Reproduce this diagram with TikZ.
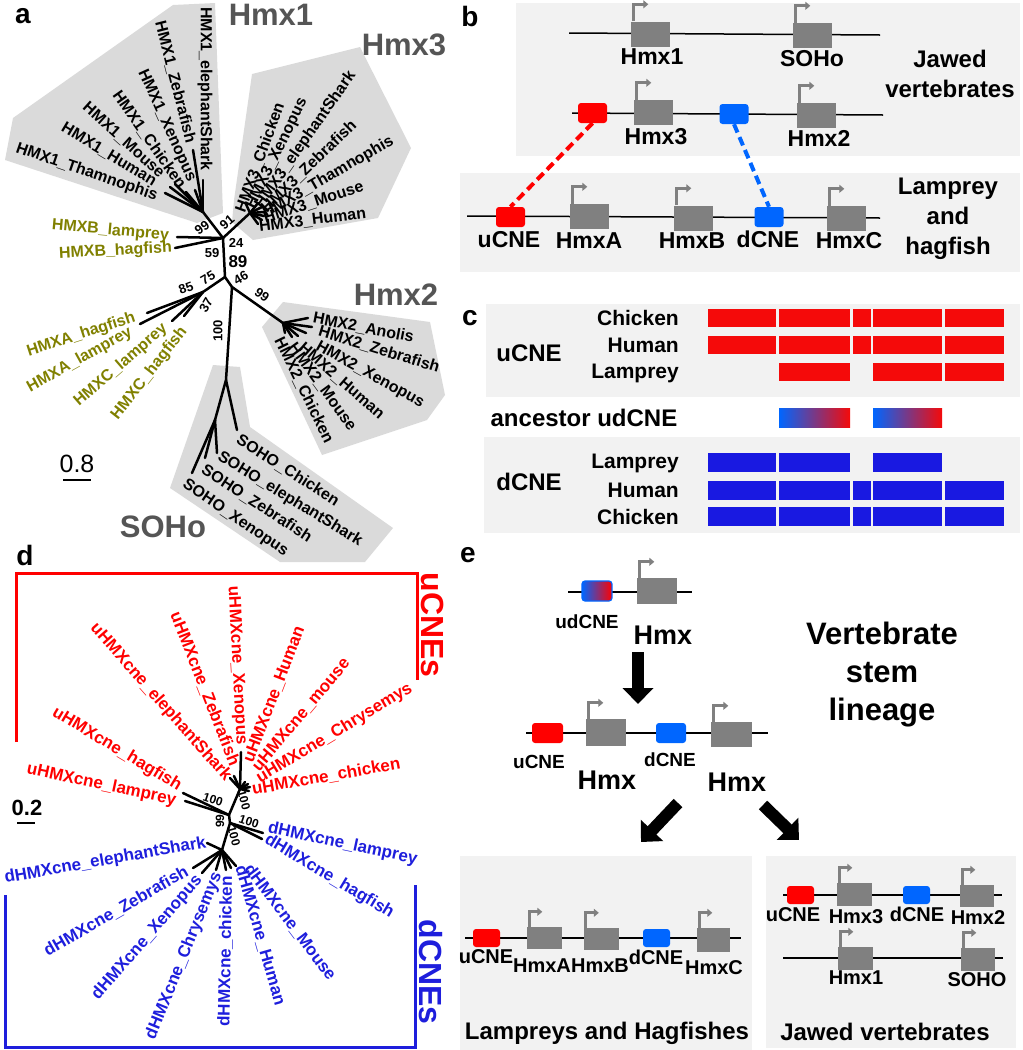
\documentclass[tikz,border=0pt]{standalone}
\usepackage{fontspec}
\setmainfont{Liberation Sans}
\usepackage{tikz}
\usetikzlibrary{positioning,calc,arrows.meta}
\definecolor{cladegray}{RGB}{85,85,85}
\definecolor{hullgray}{RGB}{218,218,218}
\definecolor{panelgray}{RGB}{242,242,242}
\definecolor{genegray}{RGB}{128,128,128}
\definecolor{olivetext}{RGB}{128,128,0}
\definecolor{cnered}{RGB}{255,0,0}
\definecolor{cneblue}{RGB}{0,102,255}
\definecolor{alnred}{RGB}{245,10,10}
\definecolor{alnblue}{RGB}{25,25,225}
\definecolor{treeblue}{RGB}{30,30,220}
\newcommand{\setfs}[1]{\fontsize{#1}{#1}\selectfont}

\begin{document}
\begin{tikzpicture}[x=1pt,y=-1pt,
    every node/.style={inner sep=1pt},
    panel/.style={font=\bfseries\setfs{28}},
    clade/.style={font=\bfseries\setfs{31},text=cladegray},
    leaf/.style={font=\bfseries\setfs{16}},
    dleaf/.style={font=\bfseries\setfs{17}},
    boot/.style={font=\bfseries\setfs{13}},
    branch/.style={line width=2.5pt,line cap=round},
    gene/.style={fill=genegray,minimum width=39pt,minimum height=25pt,inner sep=0pt},
    sgene/.style={gene,minimum width=35pt,minimum height=22pt},
    ucne/.style={fill=cnered,rounded corners=3pt,minimum width=29pt,minimum height=20pt,inner sep=0pt},
    dcne/.style={ucne,fill=cneblue},
    sucne/.style={ucne,minimum width=27pt,minimum height=18pt},
    sdcne/.style={dcne,minimum width=27pt,minimum height=18pt},
    prom/.style={genegray,line width=3pt,-{Triangle[length=5pt,width=8pt]}},
    dna/.style={line width=1.5pt},
    glab/.style={font=\bfseries\setfs{23}},
    slab/.style={font=\bfseries\setfs{20}},
    bigarrow/.style={line width=12pt,-{Triangle[length=16pt,width=30pt]}}]
\useasboundingbox (0,0) rectangle (1023,1050);

%%%%%%%%%%%%%%%% a
\node[panel] (aLab) at (23,16) {a};
% Hulls
\fill[hullgray] (173,5) -- (215,3) -- (223,213) -- (197,223) -- (5,160) -- (13,118) -- cycle;
\fill[hullgray] (252,74) -- (360,47) -- (411,148) -- (378,218) -- (253,240) -- (232,222) -- (234,200) -- cycle;
\fill[hullgray] (262,327) -- (283,302) -- (430,322) -- (445,395) -- (427,420) -- (322,455) -- cycle;
\fill[hullgray] (213,365) -- (240,367) -- (250,427) -- (393,528) -- (365,562) -- (280,562) -- (170,488) -- cycle;
\node[clade] (aHmxOne) at (271,15) {Hmx1};
\node[clade] (aHmxThree) at (404,45) {Hmx3};
\node[clade] (aHmxTwo) at (396,295) {Hmx2};
\node[clade] (aSoho) at (163,527) {SOHo};

% Tree
\coordinate (a0) at (223,238);
\coordinate (aH1) at (203,212);
\coordinate (aH3) at (250,213);
\coordinate (a1) at (225,277);
\coordinate (a2) at (232,287);
\coordinate (aAC) at (203,292);
\coordinate (aH2) at (283,323);
\coordinate (aS0) at (226,380);
\coordinate (aS1) at (215,420);
\draw[branch] (a0) -- (aH1);
\draw[branch] (a0) -- (aH3);
\draw[branch] (a0) -- (a1) -- (a2);
\draw[branch] (a1) -- (aAC);
\draw[branch] (a2) -- (aH2);
\draw[branch] (a2) -- (aS0) -- (aS1);
\foreach \n/\x/\y in {t1/203/180,t2/193/150,t3/195/190,t4/186/192,t5/175/184,t6/170/187,t7/165/193}{
  \coordinate (aH1\n) at (\x,\y); \draw[branch] (aH1) -- (aH1\n);}
\foreach \n/\x/\y in {t1/246/204,t2/258/203,t3/262/207,t4/264/212,t5/264/216,t6/262/220,t7/258/224}{
  \coordinate (aH3\n) at (\x,\y); \draw[branch] (aH3) -- (aH3\n);}
\foreach \n/\x/\y in {t1/308/318,t2/312/327,t3/306/333,t4/298/336,t5/292/337,t6/285/333}{
  \coordinate (aH2\n) at (\x,\y); \draw[branch] (aH2) -- (aH2\n);}
\foreach \n/\x/\y in {tb1/177/237,tb2/175/248}{
  \coordinate (aB\n) at (\x,\y); \draw[branch] (a0) -- (aB\n);}
\foreach \n/\x/\y in {ta1/147/313,ta2/140/324,tc1/172/321,tc2/184/316}{
  \coordinate (aAC\n) at (\x,\y); \draw[branch] (aAC) -- (aAC\n);}
\coordinate (aSt1) at (237,430);
\draw[branch] (aS0) -- (aSt1);
\foreach \n/\x/\y in {t2/217/453,t3/205/458,t4/192/473}{
  \coordinate (aS\n) at (\x,\y); \draw[branch] (aS1) -- (aS\n);}

% Hmx1 leaves
\node[leaf,rotate=-90,anchor=east] (aL11) at (205,172) {HMX1\_elephantShark};
\node[leaf,rotate=-75.7,anchor=east] (aL12) at (191,144) {HMX1\_Zebrafish};
\node[leaf,rotate=-65.7,anchor=east] (aL13) at (192,182) {HMX1\_Xenopus};
\node[leaf,rotate=-55,anchor=east] (aL14) at (183,188) {HMX1\_Chicken};
\node[leaf,rotate=-42,anchor=east] (aL15) at (163,176) {HMX1\_Mouse};
\node[leaf,rotate=-31,anchor=east] (aL16) at (156,183) {HMX1\_Human};
\node[leaf,rotate=-19,anchor=east] (aL17) at (158,197) {HMX1\_Thamnophis};
% Hmx3 leaves
\node[leaf,rotate=70,anchor=west] (aL31) at (240,213) {HMX3\_Chicken};
\node[leaf,rotate=64,anchor=west] (aL32) at (250,209) {HMX3\_Xenopus};
\node[leaf,rotate=55,anchor=west] (aL33) at (258,208) {HMX3\_elephantShark};
\node[leaf,rotate=44,anchor=west] (aL34) at (263,211) {HMX3\_Zebrafish};
\node[leaf,rotate=30,anchor=west] (aL35) at (263,215) {HMX3\_Thamnophis};
\node[leaf,rotate=18,anchor=west] (aL36) at (263,219) {HMX3\_Mouse};
\node[leaf,rotate=7,anchor=west] (aL37) at (258,227) {HMX3\_Human};
% Hmx2 leaves
\node[leaf,rotate=-11,anchor=west] (aL21) at (312,318) {HMX2\_Anolis};
\node[leaf,rotate=-17,anchor=west] (aL22) at (318,331) {HMX2\_Zebrafish};
\node[leaf,rotate=-29,anchor=west] (aL23) at (316,345) {HMX2\_Xenopus};
\node[leaf,rotate=-41,anchor=west] (aL24) at (300,345) {HMX2\_Human};
\node[leaf,rotate=-54,anchor=west] (aL25) at (291,344) {HMX2\_Mouse};
\node[leaf,rotate=-64,anchor=west] (aL26) at (278,337) {HMX2\_Chicken};
% SOHo leaves
\node[leaf,rotate=-32.5,anchor=west] (aLS1) at (237,438) {SOHO\_Chicken};
\node[leaf,rotate=-31.5,anchor=west] (aLS2) at (218,455) {SOHO\_elephantShark};
\node[leaf,rotate=-33,anchor=west] (aLS3) at (202,468) {SOHO\_Zebrafish};
\node[leaf,rotate=-34,anchor=west] (aLS4) at (183,483) {SOHO\_Xenopus};
% lamprey and hagfish leaves
\node[leaf,text=olivetext,rotate=-5,anchor=east] (aLB1) at (170,236) {HMXB\_lamprey};
\node[leaf,text=olivetext,rotate=3,anchor=east] (aLB2) at (173,248) {HMXB\_hagfish};
\node[leaf,text=olivetext,rotate=18,anchor=east] (aLA1) at (136,317) {HMXA\_hagfish};
\node[leaf,text=olivetext,rotate=29,anchor=east] (aLA2) at (132,331) {HMXA\_lamprey};
\node[leaf,text=olivetext,rotate=41,anchor=east] (aLC1) at (166,326) {HMXC\_lamprey};
\node[leaf,text=olivetext,rotate=52,anchor=east] (aLC2) at (185,328) {HMXC\_hagfish};
% Support values
\node[boot,rotate=35] (aB99a) at (202,228) {99};
\node[boot,rotate=40] (aB91) at (227,222) {91};
\node[boot] (aB24) at (236,243) {24};
\node[boot] (aB59) at (212,253) {59};
\node[font=\bfseries\setfs{17}] (aB89) at (238,262) {89};
\node[boot,rotate=30] (aB75) at (208,278) {75};
\node[boot,rotate=30] (aB46) at (241,278) {46};
\node[boot,rotate=20] (aB85) at (186,288) {85};
\node[boot,rotate=60] (aB37) at (206,305) {37};
\node[boot,rotate=-35] (aB99b) at (262,295) {99};
\node[boot,rotate=90] (aB100) at (218,331) {100};
% Scale
\node[font=\setfs{25}] (aScale) at (77,464) {0.8};
\coordinate (aSc1) at (63,480);
\coordinate (aSc2) at (91,480);
\draw[line width=2.5pt] (aSc1) -- (aSc2);

%%%%%%%%%%%%%%%% b
\fill[panelgray] (516,3) rectangle (1020,156);
\fill[panelgray] (460,173) rectangle (1020,272);
\node[panel] (bLab) at (470,16) {b};
\coordinate (bR1a) at (569,33);
\coordinate (bR1b) at (880,35);
\coordinate (bR2a) at (572,113);
\coordinate (bR2b) at (883,115);
\coordinate (bR3a) at (467,216);
\coordinate (bR3b) at (880,218);
\draw[dna] (bR1a) -- (bR1b);
\draw[dna] (bR2a) -- (bR2b);
\draw[dna] (bR3a) -- (bR3b);
\node[gene] (bHmx1) at (650.5,34) {};
\node[gene] (bSoho) at (812.5,35.5) {};
\node[ucne] (bU2) at (592.5,113) {};
\node[gene] (bHmx3) at (653.5,112.5) {};
\node[dcne] (bD2) at (734,114) {};
\node[gene] (bHmx2) at (816.5,115.5) {};
\node[ucne] (bU3) at (510.5,217) {};
\node[gene] (bHmxA) at (589.5,216.5) {};
\node[gene] (bHmxB) at (693.5,218) {};
\node[dcne] (bD3) at (769,217) {};
\node[gene] (bHmxC) at (846.5,218.5) {};
\foreach \g in {bHmx1,bSoho,bHmx3,bHmx2,bHmxA,bHmxB,bHmxC}
  \draw[prom] ([xshift=2.5pt]\g.north west) -- ++(0,-17) -- ++(15,0);
\draw[cnered,line width=4pt,dash pattern=on 9pt off 5pt] (bU2.south) -- (bU3.north);
\draw[cneblue,line width=4pt,dash pattern=on 9pt off 5pt] (bD2.south) -- (bD3.north);
\node[glab] (bT1) at (652,57) {Hmx1};
\node[glab] (bT2) at (812,59) {SOHo};
\node[glab] (bT3) at (656,137) {Hmx3};
\node[glab] (bT4) at (819,138) {Hmx2};
\node[glab] (bT5) at (509,240) {uCNE};
\node[glab] (bT6) at (589,241) {HmxA};
\node[glab] (bT7) at (692,241) {HmxB};
\node[glab] (bT8) at (768,239) {dCNE};
\node[glab] (bT9) at (849,241) {HmxC};
\node[font=\bfseries\fontsize{24}{30}\selectfont,align=center] (bJawed) at (950,74) {Jawed\\vertebrates};
\node[font=\bfseries\fontsize{24}{30}\selectfont,align=center] (bLamp) at (948,219) {Lamprey\\and\\hagfish};

%%%%%%%%%%%%%%%% c
\fill[panelgray] (486,304) rectangle (1020,397);
\fill[panelgray] (484,437) rectangle (1020,533);
\node[panel] (cLab) at (470,318) {c};
% uCNE rows
\foreach \y in {318,345}
  \foreach \xa/\xb in {708/776,779/850,853/871,873/942,945/1004}
    \fill[alnred] (\xa,\y-9) rectangle (\xb,\y+9);
\foreach \xa/\xb in {779/850,873/942,945/1004}
  \fill[alnred] (\xa,363) rectangle (\xb,381);
% ancestor
\foreach \xa/\xb in {779/850,873/942}
  \shade[left color=cneblue,right color=alnred] (\xa,408) rectangle (\xb,427);
% dCNE rows
\foreach \xa/\xb in {708/776,779/850,873/942}
  \fill[alnblue] (\xa,453) rectangle (\xb,472);
\foreach \y in {490,516.5}
  \foreach \xa/\xb in {708/776,779/850,853/871,873/942,945/1004}
    \fill[alnblue] (\xa,\y-9.5) rectangle (\xb,\y+9.5);
\node[font=\bfseries\setfs{21},anchor=east] (cU1) at (680,318) {Chicken};
\node[font=\bfseries\setfs{21},anchor=east] (cU2) at (680,345) {Human};
\node[font=\bfseries\setfs{21},anchor=east] (cU3) at (680,373) {Lamprey};
\node[font=\bfseries\setfs{21},anchor=east] (cD1) at (680,463) {Lamprey};
\node[font=\bfseries\setfs{21},anchor=east] (cD2) at (680,490) {Human};
\node[font=\bfseries\setfs{21},anchor=east] (cD3) at (680,517) {Chicken};
\node[font=\bfseries\setfs{24}] (cU) at (529,353) {uCNE};
\node[font=\bfseries\setfs{24}] (cAnc) at (584,418) {ancestor udCNE};
\node[font=\bfseries\setfs{24}] (cD) at (529,482) {dCNE};

%%%%%%%%%%%%%%%% d
\node[panel] (dLab) at (25,555) {d};
\coordinate (dU1) at (16,742);
\coordinate (dU2) at (16,573);
\coordinate (dU3) at (417,573);
\coordinate (dU4) at (417,680);
\draw[cnered,line width=3pt] (dU1) -- (dU2) -- (dU3) -- (dU4);
\coordinate (dD1) at (5,895);
\coordinate (dD2) at (5,1047);
\coordinate (dD3) at (415,1047);
\coordinate (dD4) at (415,885);
\draw[treeblue,line width=3pt] (dD1) -- (dD2) -- (dD3) -- (dD4);
\node[font=\bfseries\setfs{32},text=cnered,rotate=-90] (dUcnes) at (433,625) {uCNEs};
\node[font=\bfseries\setfs{32},text=treeblue,rotate=-90] (dDcnes) at (431,972) {dCNEs};
% Tree
\coordinate (dUb) at (240,789);
\coordinate (dN1) at (229,815);
\coordinate (dN2) at (230,823);
\coordinate (dN3) at (222,850);
\draw[branch] (dUb) -- (dN1) -- (dN2) -- (dN3);
\foreach \n/\x/\y in {t1/241/752,t2/230/778,t3/234/776,t4/245/782,t5/248/784,t6/250/787,t7/249/791}{
  \coordinate (dU\n) at (\x,\y); \draw[branch] (dUb) -- (dU\n);}
\foreach \n/\x/\y in {l1/183/793,l2/185/801}{
  \coordinate (dU\n) at (\x,\y); \draw[branch] (dN1) -- (dU\n);}
\foreach \n/\x/\y in {l1/263/833,l2/262/839}{
  \coordinate (dD\n) at (\x,\y); \draw[branch] (dN2) -- (dD\n);}
\foreach \n/\x/\y in {t1/207/843,t2/193/868,t3/202/873,t4/216/870,t5/226/870,t6/231/868,t7/236/866}{
  \coordinate (dD\n) at (\x,\y); \draw[branch] (dN3) -- (dD\n);}
% uCNE leaves
\node[dleaf,text=cnered,rotate=-12,anchor=east] (dLu1) at (177,801) {uHMXcne\_lamprey};
\node[dleaf,text=cnered,rotate=-31,anchor=east] (dLu2) at (181,788) {uHMXcne\_hagfish};
\node[dleaf,text=cnered,rotate=-48.6,anchor=east] (dLu3) at (229,780) {uHMXcne\_elephantShark};
\node[dleaf,text=cnered,rotate=-68.6,anchor=east] (dLu4) at (235,766) {uHMXcne\_Zebrafish};
\node[dleaf,text=cnered,rotate=-87,anchor=east] (dLu5) at (241,746) {uHMXcne\_Xenopus};
\node[dleaf,text=cnered,rotate=69,anchor=west] (dLu6) at (248,763) {uHMXcne\_Human};
\node[dleaf,text=cnered,rotate=50,anchor=west] (dLu7) at (255,770) {uHMXcne\_mouse};
\node[dleaf,text=cnered,rotate=31,anchor=west] (dLu8) at (257,780) {uHMXcne\_Chrysemys};
\node[dleaf,text=cnered,rotate=10,anchor=west] (dLu9) at (251,790) {uHMXcne\_chicken};
% dCNE leaves
\node[dleaf,text=treeblue,rotate=-12,anchor=west] (dLd1) at (267,828) {dHMXcne\_lamprey};
\node[dleaf,text=treeblue,rotate=-31,anchor=west] (dLd2) at (265,838) {dHMXcne\_hagfish};
\node[dleaf,text=treeblue,rotate=10,anchor=east] (dLd3) at (207,843) {dHMXcne\_elephantShark};
\node[dleaf,text=treeblue,rotate=30,anchor=east] (dLd4) at (188,870) {dHMXcne\_Zebrafish};
\node[dleaf,text=treeblue,rotate=49,anchor=east] (dLd5) at (200,877) {dHMXcne\_Xenopus};
\node[dleaf,text=treeblue,rotate=68,anchor=east] (dLd6) at (218,872) {dHMXcne\_Chrysemys};
\node[dleaf,text=treeblue,rotate=89,anchor=east] (dLd7) at (227,875) {dHMXcne\_chicken};
\node[dleaf,text=treeblue,rotate=-74,anchor=west] (dLd8) at (240,865) {dHMXcne\_Human};
\node[dleaf,text=treeblue,rotate=-53,anchor=west] (dLd9) at (247,865) {dHMXcne\_Mouse};
% Support values
\node[font=\bfseries\setfs{12},rotate=-18] (dB1) at (213,800) {100};
\node[font=\bfseries\setfs{12},rotate=-75] (dB2) at (244,800) {100};
\node[font=\bfseries\setfs{12},rotate=90] (dB3) at (220,821) {99};
\node[font=\bfseries\setfs{12},rotate=-18] (dB4) at (249,822) {100};
\node[font=\bfseries\setfs{12},rotate=-75] (dB5) at (234,836) {100};
% Scale
\node[font=\bfseries\setfs{22}] (dScale) at (27,808) {0.2};
\coordinate (dSc1) at (17,823);
\coordinate (dSc2) at (35,823);
\draw[line width=2.5pt] (dSc1) -- (dSc2);

%%%%%%%%%%%%%%%% e
\node[panel] (eLab) at (468,555) {e};
% ancestor
\coordinate (eR0a) at (568,592);
\coordinate (eR0b) at (692,592);
\draw[dna] (eR0a) -- (eR0b);
\node[draw=cneblue,line width=1.2pt,rounded corners=3pt,left color=cneblue,right color=cnered,
      minimum width=30pt,minimum height=20pt,inner sep=0pt] (eUD) at (597,591) {};
\node[gene,minimum width=40pt,minimum height=26pt] (eG0) at (657,591) {};
\node[font=\bfseries\setfs{19}] (eT0a) at (587,622) {udCNE};
\node[font=\bfseries\setfs{27}] (eT0b) at (663,635) {Hmx};
\coordinate (eA1) at (638,652);
\coordinate (eA2) at (638,704);
\draw[bigarrow] (eA1) -- (eA2);
\node[font=\bfseries\fontsize{31}{38}\selectfont,align=center] (eStem) at (882,675) {Vertebrate\\stem\\lineage};
% duplicated
\coordinate (eR1a) at (526,733);
\coordinate (eR1b) at (768,733);
\draw[dna] (eR1a) -- (eR1b);
\node[ucne,minimum width=31pt] (eU1) at (547.5,733) {};
\node[gene,minimum width=40pt,minimum height=27pt] (eG1) at (606,732.5) {};
\node[dcne,minimum width=30pt] (eD1) at (671,733) {};
\node[gene,minimum width=41pt,minimum height=25pt] (eG2) at (731.5,734.5) {};
\node[font=\bfseries\setfs{19}] (eT1a) at (539,762) {uCNE};
\node[font=\bfseries\setfs{19}] (eT1b) at (670,760) {dCNE};
\node[font=\bfseries\setfs{27}] (eT1c) at (607,780) {Hmx};
\node[font=\bfseries\setfs{27}] (eT1d) at (737,782) {Hmx};
\coordinate (eB1) at (678,803);
\coordinate (eB2) at (641,842);
\coordinate (eC1) at (763,805);
\coordinate (eC2) at (799,840);
\draw[bigarrow] (eB1) -- (eB2);
\draw[bigarrow] (eC1) -- (eC2);
% lamprey and hagfish box
\fill[panelgray] (460,856) rectangle (752,1050);
\coordinate (eR2a) at (465,938);
\coordinate (eR2b) at (741,938);
\draw[dna] (eR2a) -- (eR2b);
\node[sucne] (eU2) at (486.5,938) {};
\node[sgene] (eGA) at (544.5,938) {};
\node[sgene] (eGB) at (601,939) {};
\node[sdcne] (eD2) at (656.5,938) {};
\node[sgene,minimum width=33pt,minimum height=24pt] (eGC) at (713.5,940) {};
\node[slab] (eT2a) at (486,957) {uCNE};
\node[slab] (eT2b) at (542,966) {HmxA};
\node[slab] (eT2c) at (600,966) {HmxB};
\node[slab] (eT2d) at (656,957) {dCNE};
\node[slab] (eT2e) at (714,968) {HmxC};
\node[font=\bfseries\setfs{24}] (eT2f) at (607,1033) {Lampreys and Hagfishes};
% jawed box
\fill[panelgray] (766,856) rectangle (1016,1048);
\coordinate (eR3a) at (783,895);
\coordinate (eR3b) at (1002,895);
\coordinate (eR4a) at (783,958);
\coordinate (eR4b) at (1003,958);
\draw[dna] (eR3a) -- (eR3b);
\draw[dna] (eR4a) -- (eR4b);
\node[sucne] (eU3) at (800.5,895) {};
\node[sgene,minimum height=23pt] (eG3) at (854.5,894.5) {};
\node[sdcne] (eD3) at (916.5,895) {};
\node[sgene,minimum width=34pt] (eG4) at (977,896) {};
\node[sgene,minimum height=23pt] (eG5) at (855.5,958.5) {};
\node[sgene,minimum width=34pt,minimum height=23pt] (eG6) at (978,959.5) {};
\node[slab] (eT3a) at (793,915) {uCNE};
\node[slab] (eT3b) at (856,917) {Hmx3};
\node[slab] (eT3c) at (917,914) {dCNE};
\node[slab] (eT3d) at (978,918) {Hmx2};
\node[slab] (eT3e) at (856,978) {Hmx1};
\node[slab] (eT3f) at (977,980) {SOHO};
\node[font=\bfseries\setfs{24}] (eT3g) at (885,1032) {Jawed vertebrates};
% promoters
\foreach \g in {eG0,eG1,eG2}
  \draw[prom] ([xshift=2.5pt]\g.north west) -- ++(0,-16) -- ++(15,0);
\foreach \g in {eGA,eGB,eGC,eG3,eG4,eG5,eG6}
  \draw[prom] ([xshift=2.5pt]\g.north west) -- ++(0,-15) -- ++(13,0);
\end{tikzpicture}
\end{document}
